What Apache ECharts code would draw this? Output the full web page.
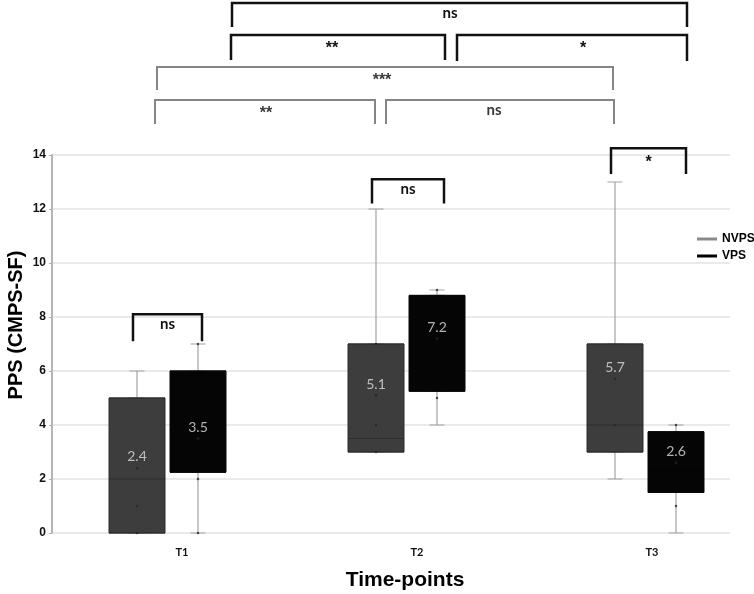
<!DOCTYPE html>
<html><head><meta charset="utf-8">
<script src="https://cdn.jsdelivr.net/npm/echarts@6/dist/echarts.min.js"></script>
<style>html,body{margin:0;padding:0;background:#fff}#c{width:754px;height:594px}</style>
</head><body><div id="c"></div>
<script>
// ---- data ----
const categories = ['T1', 'T2', 'T3'];
const seriesNames = ['NVPS', 'VPS'];
// [min, Q1, median, Q3, max]
const nvpsBox = [[0, 0, 2, 5, 6], [3, 3, 3.5, 7, 12], [2, 3, 4, 7, 13]];
const vpsBox = [[0, 2.25, 3, 6, 7], [4, 5.25, 7, 8.8, 9], [0, 1.5, 2.5, 3.75, 4]];
const nvpsMean = [2.4, 5.1, 5.7];
const vpsMean = [3.5, 7.2, 2.6];
const nvpsPoints = [[0, 1], [0, 0], [1, 4], [1, 3], [1, 7], [2, 4]];
const vpsPoints = [[0, 7], [0, 2], [0, 0], [1, 5], [1, 9], [2, 4], [2, 1]];
const yMin = 0, yMax = 14, yStep = 2;
// within-time-point comparisons (category index, bracket top value, leg end value, label)
const pairTests = [[0, 8.1, 7.1, 'ns'], [1, 13.1, 12.2, 'ns'], [2, 14.25, 13.3, '*']];
// between-time-point comparisons (group, span, label)
const groupTests = [
  ['VPS', 'T1–T3', 'ns'], ['VPS', 'T1–T2', '**'], ['VPS', 'T2–T3', '*'],
  ['NVPS', 'T1–T3', '***'], ['NVPS', 'T1–T2', '**'], ['NVPS', 'T2–T3', 'ns']
];

// ---- layout (pixels) ----
const topLayout = [
  { x1: 232, x2: 687, top: 3, leg: 27, lx: 450 },
  { x1: 231, x2: 445, top: 35, leg: 60, lx: 332 },
  { x1: 457, x2: 687, top: 35, leg: 61, lx: 583 },
  { x1: 157, x2: 613, top: 67, leg: 90, lx: 382 },
  { x1: 155, x2: 375, top: 100, leg: 124, lx: 266 },
  { x1: 386, x2: 614, top: 100, leg: 124, lx: 494 }
];
const GT = 155, GH = 378;
const cNV = '#3d3d3d', cV = '#050505', cWhisk = '#a3a3a3';

const chart = echarts.init(document.getElementById('c'));
const hiddenCat = gi => ({ type: 'category', gridIndex: gi, data: categories, show: false, boundaryGap: false });
const hiddenVal = gi => ({ type: 'value', gridIndex: gi, min: yMin, max: yMax, interval: yStep, show: false });
const boxOnly = arr => arr.map(d => [d[1], d[1], d[2], d[3], d[3]]);

function groupSeries(name, gW, gB, box, mean, pts, fill, border) {
  return [
    { name, type: 'boxplot', xAxisIndex: gW, yAxisIndex: gW, data: box, boxWidth: [15, 15], z: 2,
      itemStyle: { color: 'rgba(0,0,0,0)', borderColor: cWhisk, borderWidth: 1.2 }, silent: true },
    { name, type: 'boxplot', xAxisIndex: gB, yAxisIndex: gB, data: boxOnly(box), boxWidth: [56, 56], z: 3,
      itemStyle: { color: fill, borderColor: border, borderWidth: 1 }, silent: true },
    { name, type: 'scatter', xAxisIndex: gB, yAxisIndex: gB, data: pts, symbolSize: 2.5, z: 4,
      itemStyle: { color: '#262626' }, silent: true },
    { name, type: 'scatter', xAxisIndex: gB, yAxisIndex: gB, data: mean, symbolSize: 2.5, z: 5,
      itemStyle: { color: '#262626' }, silent: true,
      label: { show: true, position: 'top', distance: 3, formatter: p => p.value,
        color: '#dedede', fontSize: 14, fontFamily: 'Lato' } }
  ];
}

chart.setOption({
  animation: false,
  backgroundColor: '#fff',
  grid: [
    { left: 52, top: GT, width: 678, height: GH },
    { left: 137, top: GT, width: 478, height: GH },
    { left: 137, top: GT, width: 478, height: GH },
    { left: 198, top: GT, width: 478, height: GH },
    { left: 198, top: GT, width: 478, height: GH },
    { left: 182, top: GT, width: 470, height: GH }
  ],
  xAxis: [
    hiddenCat(0), hiddenCat(1), hiddenCat(2), hiddenCat(3), hiddenCat(4),
    { type: 'category', gridIndex: 5, data: categories, boundaryGap: false,
      axisLine: { show: false }, axisTick: { show: false }, splitLine: { show: false },
      axisLabel: { margin: 14, fontSize: 11, fontWeight: 'bold', fontFamily: 'Lato', color: '#111' } }
  ],
  yAxis: [
    { type: 'value', gridIndex: 0, min: yMin, max: yMax, interval: yStep,
      axisLine: { show: true, lineStyle: { color: '#b4b4b4', width: 2 } },
      axisTick: { show: true, length: 3, lineStyle: { color: '#b4b4b4' } },
      axisLabel: { margin: 6, fontSize: 12, fontWeight: 'bold', fontFamily: 'Liberation Sans', color: '#111' },
      splitLine: { show: true, lineStyle: { color: '#e3e3e3', width: 1.5 } } },
    hiddenVal(1), hiddenVal(2), hiddenVal(3), hiddenVal(4), hiddenVal(5)
  ],
  legend: {
    orient: 'vertical', left: 692, top: 228, itemWidth: 20, itemHeight: 3, itemGap: 5,
    selectedMode: false,
    textStyle: { fontSize: 12, fontWeight: 'bold', fontFamily: 'Liberation Sans', color: '#000' },
    data: [
      { name: seriesNames[0], icon: 'rect', itemStyle: { color: '#8a8a8a', borderWidth: 0 } },
      { name: seriesNames[1], icon: 'rect', itemStyle: { color: '#000', borderWidth: 0 } }
    ]
  },
  series: [
    ...groupSeries(seriesNames[0], 1, 2, nvpsBox, nvpsMean, nvpsPoints, cNV, '#2c2c2c'),
    ...groupSeries(seriesNames[1], 3, 4, vpsBox, vpsMean, vpsPoints, cV, '#080808')
  ]
});

// ---- annotations ----
function bracket(x1, x2, yTop, yLeg, color, w) {
  return { type: 'polyline', z: 20, silent: true,
    shape: { points: [[x1, yLeg], [x1, yTop], [x2, yTop], [x2, yLeg]] },
    style: { stroke: color, lineWidth: w, fill: null } };
}
function txt(x, y, text, color, size, weight, family, rot) {
  return { type: 'text', x, y, z: 21, silent: true, rotation: rot || 0,
    style: { text, fill: color, font: (weight || 'bold') + ' ' + size + 'px ' + (family || 'Lato'),
      align: 'center', verticalAlign: 'middle', textAlign: 'center', textVerticalAlign: 'middle' } };
}
function sigText(x, yTop, lab, color) {
  if (lab === 'ns') return txt(x, yTop + 10, lab, color, 15, 'bold', 'Lato');
  return txt(x, yTop + 14, lab, color, 16, 'bold', 'Liberation Sans');
}
const g = [];
const pad = 4;
pairTests.forEach(([ci, top, leg, lab]) => {
  const pN = chart.convertToPixel({ xAxisIndex: 2, yAxisIndex: 2 }, [ci, top]);
  const pV = chart.convertToPixel({ xAxisIndex: 4, yAxisIndex: 4 }, [ci, leg]);
  const x1 = pN[0] - pad, x2 = pV[0] + pad + 3 * ci;
  g.push(bracket(x1, x2, pN[1], pV[1], '#111', 2.5));
  g.push(sigText((x1 + x2) / 2, pN[1], lab, '#111'));
});
groupTests.forEach(([grp, span, lab], i) => {
  const L = topLayout[i];
  const col = grp === 'VPS' ? '#111' : '#858585';
  const tcol = grp === 'VPS' ? '#111' : '#3a3a3a';
  g.push(bracket(L.x1, L.x2, L.top, L.leg, col, grp === 'VPS' ? 2.5 : 2));
  g.push(sigText(L.lx, L.top, lab, tcol));
});
g.push(txt(405, 580, 'Time-points', '#000', 21, 'bold', 'Liberation Sans'));
g.push(txt(16, 325, 'PPS (CMPS-SF)', '#000', 20, 'bold', 'Liberation Sans', Math.PI / 2));
chart.setOption({ graphic: { elements: g } });
</script>
</body></html>
